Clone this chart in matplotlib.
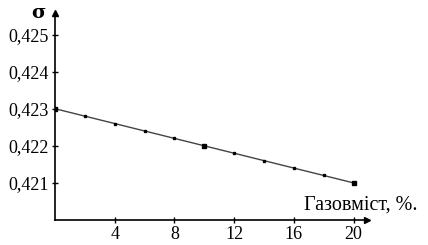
import matplotlib.pyplot as plt
import numpy as np

# gas content, % and sigma values
gas = [0, 2, 4, 6, 8, 10, 12, 14, 16, 18, 20]
sigma = [0.4230, 0.4228, 0.4226, 0.4224, 0.4222, 0.4220,
         0.4218, 0.4216, 0.4214, 0.4212, 0.4210]
big_gas = [0, 10, 20]
big_sigma = [0.4230, 0.4220, 0.4210]

xticks = [4, 8, 12, 16, 20]
yticks = [0.421, 0.422, 0.423, 0.424, 0.425]
ylabels = ["0,421", "0,422", "0,423", "0,424", "0,425"]

plt.rcParams['font.family'] = ['Liberation Serif', 'DejaVu Serif']

fig = plt.figure(figsize=(4.28, 2.45), dpi=100)
ax = fig.add_axes([55 / 428, 25 / 245, 312 / 428, 207 / 245])

ax.plot(gas, sigma, color='#444444', lw=1.0, marker='s', ms=1.6,
        mfc='black', mec='black')
ax.plot(big_gas, big_sigma, ls='none', marker='s', ms=3, color='black')

ax.set_xlim(0, 20.9)
ax.set_ylim(0.420, 0.42558)

for s in ['top', 'right']:
    ax.spines[s].set_visible(False)
for s in ['left', 'bottom']:
    ax.spines[s].set_linewidth(1.2)

ax.set_xticks(xticks)
ax.set_xticklabels([str(t) for t in xticks])
ax.set_yticks(yticks)
ax.set_yticklabels(ylabels)
ax.tick_params(direction='inout', length=5, width=1, labelsize=13, pad=2)

# axis arrows
ax.plot(1, 0, '>k', ms=5, transform=ax.transAxes, clip_on=False)
ax.plot(0, 1, '^k', ms=5, transform=ax.transAxes, clip_on=False)

fig.text(304 / 428, 1 - 205 / 245, "Газовміст, %.", fontsize=14.5,
         ha='left', va='center')
fig.text(38 / 428, 1 - 13 / 245, "σ", fontsize=14, fontweight='bold',
         ha='center', va='center', family=['DejaVu Serif'])

fig.savefig('out.png', dpi=100)
